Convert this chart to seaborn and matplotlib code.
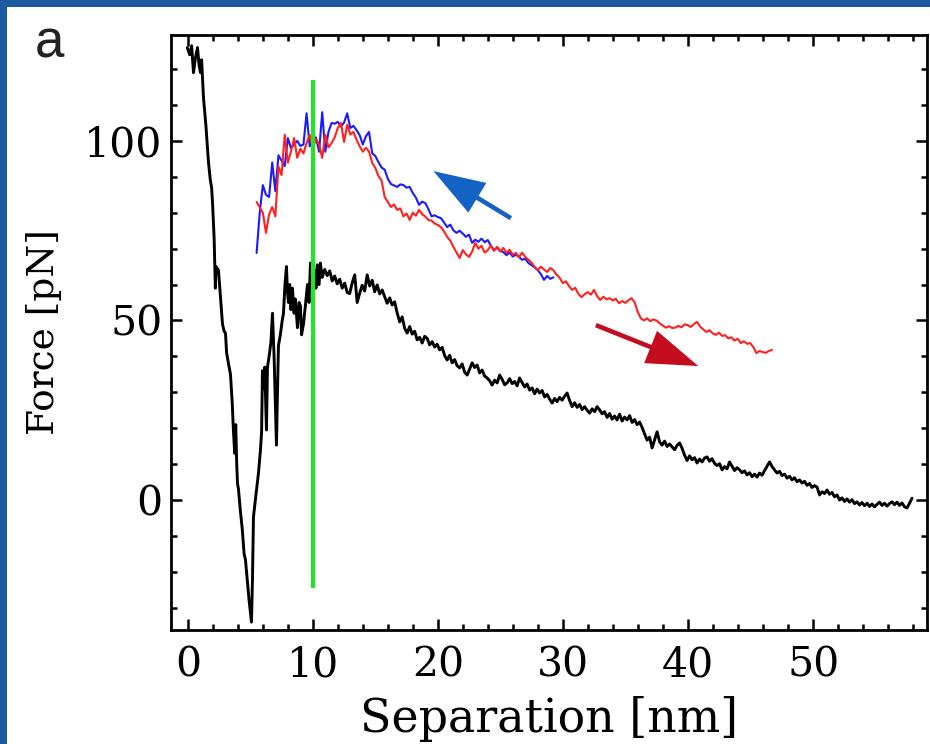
import numpy as np
import pandas as pd
import matplotlib
matplotlib.use("Agg")
import matplotlib.pyplot as plt
from matplotlib.ticker import MultipleLocator
from matplotlib.patches import Rectangle
import seaborn as sns

sns.set_style("ticks")
plt.rcParams["font.family"] = ["DejaVu Serif"]
plt.rcParams["text.color"] = "black"
plt.rcParams["axes.labelcolor"] = "black"
plt.rcParams["xtick.color"] = "black"
plt.rcParams["ytick.color"] = "black"

# ---- approach trace (black): irregular part near contact ----
black_head_x = [-0.1, 0.1, 0.25, 0.4, 0.55, 0.72, 0.85, 0.96, 1.05, 1.2,
                1.4, 1.6, 1.75, 1.85, 1.92, 2.05, 2.1, 2.15, 2.2, 2.4,
                2.55, 2.72, 2.85, 2.96, 3.05, 3.2, 3.36, 3.5, 3.6, 3.7,
                3.78, 3.85, 3.92, 4.0, 4.15, 4.3, 4.45, 4.56, 4.7, 4.85,
                5.04, 5.12, 5.2, 5.35, 5.6, 5.76, 5.85, 5.92, 6.02, 6.1,
                6.24, 6.32, 6.45, 6.6, 6.72, 6.85, 7.04, 7.12, 7.2, 7.35,
                7.5, 7.6, 7.72, 7.84, 7.92, 8.0, 8.1, 8.2, 8.32, 8.45,
                8.55, 8.72, 8.85, 8.96, 9.05, 9.2, 9.35, 9.52, 9.65, 9.76,
                9.88, 10.0, 10.1, 10.2, 10.3, 10.45, 10.55, 10.7]
black_head_y = [126, 124, 126.5, 119, 123, 126, 121, 119, 122.6, 112,
                104, 94, 89, 87, 83, 73, 66, 59, 65, 64,
                57, 49, 47, 46.5, 41, 38, 35, 27, 19, 13,
                21, 11, 4.7, 3, -3, -8, -15, -16.7, -22, -28,
                -34, -22, -4.7, 0, 7.5, 14, 19, 36, 31, 37,
                19.5, 37, 40, 44, 52, 40, 15.3, 30, 43, 46,
                50, 52, 60, 65, 58, 55, 60, 53, 59, 52,
                56, 48, 55, 54, 46, 49, 54, 60, 55, 66,
                62, 58, 64, 59, 65.5, 60, 66, 62]

# ---- approach trace (black): sampled every 0.2 nm from 10.9 nm ----
black_tail_start, black_tail_step = 10.9, 0.2
black_tail_y = [
    64.2, 62.5, 63.8, 61.0, 62.4, 60.2, 61.5, 59.0, 60.4, 57.8,
    57.5, 60.5, 62.7, 55.0, 57.6, 59.8, 58.2, 62.7, 59.6, 61.2,
    58.0, 59.9, 57.4, 58.5, 56.6, 54.8, 56.3, 54.3, 55.2, 52.1,
    49.6, 51.0, 47.8, 46.5, 48.3, 46.2, 47.0, 44.6, 45.3, 43.7,
    45.6, 45.0, 43.2, 44.1, 42.6, 43.4, 41.8, 42.5, 40.2, 39.0,
    40.3, 38.2, 39.1, 37.4, 36.8, 37.9, 35.6, 34.8, 36.5, 38.2,
    36.9, 37.6, 35.4, 36.2, 34.5, 34.0, 33.2, 32.0, 33.4, 32.6,
    34.8, 33.6, 32.1, 32.6, 33.8, 32.4, 33.0, 31.8, 34.0, 32.7,
    31.5, 32.3, 30.6, 31.2, 29.6, 30.9, 29.8, 30.5, 28.7, 29.4,
    28.1, 27.0, 28.3, 27.4, 28.6, 27.8, 28.9, 29.8, 27.7, 26.0,
    27.1, 25.8, 26.6, 25.2, 26.0, 25.0, 24.2, 25.4, 24.6, 26.0,
    25.1, 24.0, 24.6, 23.0, 24.1, 22.5, 23.4, 22.3, 23.9, 22.0,
    23.1, 22.3, 23.5, 21.6, 22.4, 21.0, 21.7, 20.2, 18.4, 16.7,
    17.5, 14.5, 16.8, 19.0, 16.2, 15.3, 16.4, 14.9, 15.6, 14.8,
    14.0, 15.2, 15.9, 14.4, 12.5, 11.0, 12.3, 11.2, 11.8, 10.3,
    11.4, 10.6, 11.7, 12.0, 10.8, 11.5, 10.2, 9.6, 10.1, 8.4,
    9.3, 8.7, 10.6, 9.4, 8.2, 9.0, 8.4, 7.6, 8.1, 7.0,
    7.6, 6.5, 7.2, 6.4, 7.5, 6.9, 8.2, 9.4, 10.6, 9.3,
    8.4, 7.5, 8.0, 6.8, 7.2, 6.1, 6.6, 5.6, 6.2, 5.1,
    5.6, 4.7, 5.2, 4.1, 4.6, 3.5, 4.0, 3.6, 1.4, 2.3,
    1.8, 2.8, 1.6, 2.1, 0.9, 1.4, 0.0, 0.6, -0.4, 0.3,
    -0.6, 0.1, -1.0, -0.5, -1.4, -0.7, -1.6, -0.9, -1.8, -1.1,
    -1.9, -1.2, -0.6, -1.5, -0.9, -1.7, -1.0, -0.5, -1.3, -0.6,
    -1.5, -0.8, -1.9, -2.2, -0.9, 0.5,
]

# ---- pulling traces (red, blue): sampled every 0.25 nm from 5.45 nm ----
pull_start, pull_step = 5.45, 0.25
red_y = [
    83.0, 81.5, 80.0, 74.4, 79.5, 81.6, 79.0, 92.8,
    90.5, 101.7, 93.9, 97.0, 100.8, 95.3, 97.8, 96.5,
    99.4, 101.7, 98.0, 100.5, 99.0, 95.3, 101.7, 98.2,
    99.4, 101.0, 103.6, 105.0, 99.7, 104.5, 101.8, 102.5,
    100.3, 98.5, 97.0, 98.1, 97.0, 93.9, 92.5, 90.2,
    89.0, 84.4, 83.0, 81.6, 82.3, 80.8, 81.2, 79.0,
    79.8, 78.0, 80.0, 79.2, 80.8, 79.6, 78.9, 78.0,
    77.8, 77.0, 76.6, 76.0, 74.8, 73.3, 72.2, 70.5,
    68.9, 67.4, 69.6, 68.4, 67.7, 69.2, 71.6, 70.0,
    70.8, 68.9, 69.6, 70.9, 69.4, 70.5, 69.2, 70.2,
    68.8, 69.7, 68.3, 68.8, 67.6, 68.9, 67.7, 66.9,
    66.1, 64.9, 64.0, 65.0, 64.2, 63.5, 64.6, 64.0,
    62.8, 61.9, 60.4, 60.9, 59.6, 58.5, 59.1, 57.4,
    56.5, 57.3, 57.9, 57.2, 58.5, 56.8, 55.7, 56.6,
    55.9, 56.2, 55.6, 56.0, 54.8, 55.4, 54.9, 55.6,
    56.2, 55.1, 52.4, 50.6, 50.0, 50.6, 49.8, 50.3,
    50.0, 49.2, 48.6, 48.0, 48.4, 47.9, 48.0, 48.5,
    48.1, 48.9, 48.7, 48.2, 49.0, 49.6, 48.3, 47.5,
    46.8, 47.3, 46.4, 46.0, 46.6, 45.7, 45.9, 45.0,
    45.3, 44.4, 44.9, 43.7, 44.2, 43.5, 43.7, 42.6,
    40.9, 41.5, 41.2, 41.0, 41.5, 41.8,
]
blue_y = [
    68.8, 80.0, 87.7, 85.0, 84.4, 94.0, 86.0, 96.0,
    94.5, 93.0, 100.8, 98.0, 99.0, 100.0, 98.6, 99.0,
    107.7, 98.5, 100.2, 101.0, 97.0, 108.0, 97.0, 102.5,
    105.0, 104.8, 105.3, 104.0, 105.1, 107.7, 103.6, 104.2,
    103.0, 101.6, 99.0, 101.3, 102.5, 96.6, 95.8, 94.1,
    92.6, 92.0, 89.5, 88.0, 87.6, 87.2, 87.9, 87.7,
    87.0, 87.2, 85.5, 84.2, 82.2, 83.1, 82.7, 81.0,
    79.0, 79.3, 78.8, 78.5, 77.3, 76.0, 76.7, 75.1,
    74.4, 75.0, 74.2, 73.3, 73.9, 71.6, 72.5, 71.9,
    72.8, 71.8, 72.4, 70.8, 69.6, 70.3, 69.4, 69.0,
    68.2, 68.9, 67.8, 68.3, 67.7, 66.9, 67.2, 66.0,
    65.4, 64.8, 64.0, 62.9, 61.3, 62.4, 61.6, 62.0,
]

# reference separation marker
marker_x = 10.0
marker_span = (-24.5, 117.0)

# direction arrows: (tail, head) in data units
blue_arrow = ((25.8, 78.5), (19.6, 91.6))
red_arrow = ((32.6, 48.7), (40.8, 37.3))

black = pd.DataFrame({
    "sep": np.concatenate([black_head_x,
                           black_tail_start + black_tail_step * np.arange(len(black_tail_y))]),
    "force": np.concatenate([black_head_y, black_tail_y]),
})
red = pd.DataFrame({"sep": pull_start + pull_step * np.arange(len(red_y)), "force": red_y})
blue = pd.DataFrame({"sep": pull_start + pull_step * np.arange(len(blue_y)), "force": blue_y})

fig = plt.figure(figsize=(9.3, 7.44), dpi=100)
fig.patch.set_facecolor("white")
ax = fig.add_axes([171 / 930, 114 / 744, 756 / 930, 595 / 744])

sns.lineplot(data=black, x="sep", y="force", sort=False, estimator=None,
             color="black", lw=2.1, ax=ax)
sns.lineplot(data=blue, x="sep", y="force", sort=False, estimator=None,
             color="#1a1aff", lw=1.5, ax=ax)
sns.lineplot(data=red, x="sep", y="force", sort=False, estimator=None,
             color="#ff2020", lw=1.5, ax=ax)
ax.vlines(marker_x, *marker_span, color="#22e622", lw=3.0, zorder=5)

for (tail, head), col in ((blue_arrow, "#1463c4"), (red_arrow, "#c30d1e")):
    ax.annotate("", xy=head, xytext=tail,
                arrowprops=dict(arrowstyle="simple,head_length=3.7,head_width=2.5,tail_width=0.33",
                                color=col, lw=0, shrinkA=0, shrinkB=0,
                                mutation_scale=10))

ax.set_xlim(-1.4, 59.1)
ax.set_ylim(-36.2, 129.5)
ax.xaxis.set_major_locator(MultipleLocator(10))
ax.xaxis.set_minor_locator(MultipleLocator(2))
ax.yaxis.set_major_locator(MultipleLocator(50))
ax.yaxis.set_minor_locator(MultipleLocator(10))
ax.tick_params(which="both", direction="in", top=True, right=True,
               width=1.8, color="black", labelcolor="black", labelsize=29.5)
ax.tick_params(which="major", length=8)
ax.tick_params(which="minor", length=4.5)
ax.tick_params(axis="x", pad=11)
ax.tick_params(axis="y", pad=6)
for s in ax.spines.values():
    s.set_linewidth(2.0)
    s.set_color("black")

ax.set_xlabel("Separation [nm]", fontsize=33, labelpad=8)
ax.set_ylabel("Force [pN]", fontsize=27, labelpad=16)

fig.text(35 / 930, 1 - 57 / 744, "a", fontsize=38, family="Liberation Sans", color="#222222")

# slide frame
fig.patches.append(Rectangle((0, 1 - 7 / 744), 1, 7 / 744, transform=fig.transFigure,
                             facecolor="#1b5a9e", edgecolor="none", zorder=10))
fig.patches.append(Rectangle((0, 0), 7 / 930, 1, transform=fig.transFigure,
                             facecolor="#1b5a9e", edgecolor="none", zorder=10))

fig.savefig("out.png", dpi=100)
